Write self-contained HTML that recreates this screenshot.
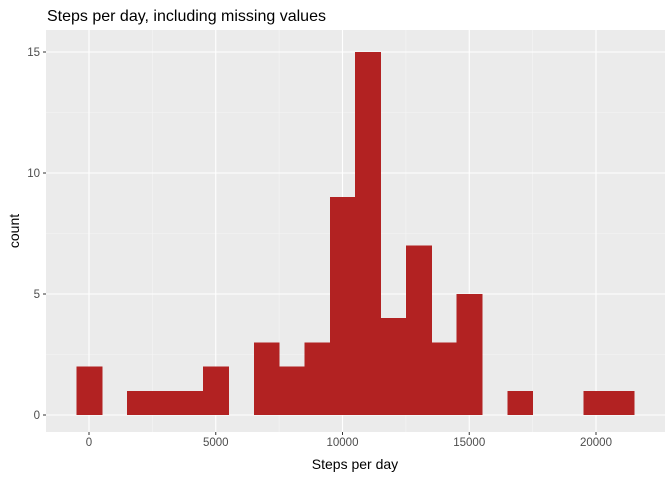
<!DOCTYPE html>
<html><head><meta charset="utf-8"><style>
body{margin:0;background:#fff;}
svg{display:block;font-family:"Liberation Sans",sans-serif;}
</style></head><body>
<svg id="chart" width="672" height="480" xmlns="http://www.w3.org/2000/svg">
<text x="47" y="21" font-size="16" fill="#000">Steps per day, including missing values</text>
<rect x="46" y="30" width="619" height="402" fill="#EBEBEB"/>
<g id="grid"></g>
<g id="bars" shape-rendering="crispEdges"></g>
<g id="axes"></g>
<text x="355" y="469" font-size="14" text-anchor="middle" fill="#000">Steps per day</text>
<text transform="translate(19,231) rotate(-90)" font-size="14" text-anchor="middle" fill="#000">count</text>
</svg>
<script>
const binCenters=[0,1000,2000,3000,4000,5000,6000,7000,8000,9000,10000,11000,12000,13000,14000,15000,16000,17000,18000,19000,20000,21000];
const counts=[2,0,1,1,1,2,0,3,2,3,9,15,4,7,3,5,0,1,0,0,1,1];
const xTicks=[0,5000,10000,15000,20000];
const yTicks=[0,5,10,15];
const binWidth=1000;
const NS="http://www.w3.org/2000/svg";
const px0=46,px1=665,py0=30,py1=432;
const x=v=>89+v*(507/20000);
const y=v=>415-v*(363/15);
function mk(tag,attrs,parent){const e=document.createElementNS(NS,tag);for(const k in attrs)e.setAttribute(k,attrs[k]);parent.appendChild(e);return e;}
const grid=document.getElementById('grid'),bars=document.getElementById('bars'),axes=document.getElementById('axes');
for(let i=0;i<xTicks.length-1;i++){const m=(xTicks[i]+xTicks[i+1])/2;const l=mk('line',{x1:x(m),x2:x(m),y1:py0,y2:py1,stroke:'#F5F5F5','stroke-width':0.6},grid);

}
for(let i=0;i<yTicks.length-1;i++){const m=(yTicks[i]+yTicks[i+1])/2;const l=mk('line',{x1:px0,x2:px1,y1:y(m),y2:y(m),stroke:'#F5F5F5','stroke-width':0.6},grid);

}
xTicks.forEach(t=>{const l=mk('line',{x1:x(t),x2:x(t),y1:py0,y2:py1,stroke:'#fff','stroke-width':1.1},grid);


mk('line',{x1:x(t),x2:x(t),y1:py1,y2:py1+3,stroke:'#333','stroke-width':1},axes);
const tx=mk('text',{x:x(t),y:py1+14,'font-size':11.5,'text-anchor':'middle',fill:'#4D4D4D'},axes);tx.textContent=t;

});
yTicks.forEach(t=>{const l=mk('line',{x1:px0,x2:px1,y1:y(t),y2:y(t),stroke:'#fff','stroke-width':1.1},grid);


mk('line',{x1:px0-3,x2:px0,y1:y(t),y2:y(t),stroke:'#333','stroke-width':1},axes);
const tx=mk('text',{x:px0-6,y:y(t)+4,'font-size':11.5,'text-anchor':'end',fill:'#4D4D4D'},axes);tx.textContent=t;

});
binCenters.forEach((c,i)=>{if(!counts[i])return;const x0=x(c-binWidth/2),x1=x(c+binWidth/2);
const r=mk('rect',{x:x0,y:y(counts[i]),width:x1-x0+0.6,height:y(0)-y(counts[i]),fill:'#B22222'},bars);

});
</script>
</body></html>
